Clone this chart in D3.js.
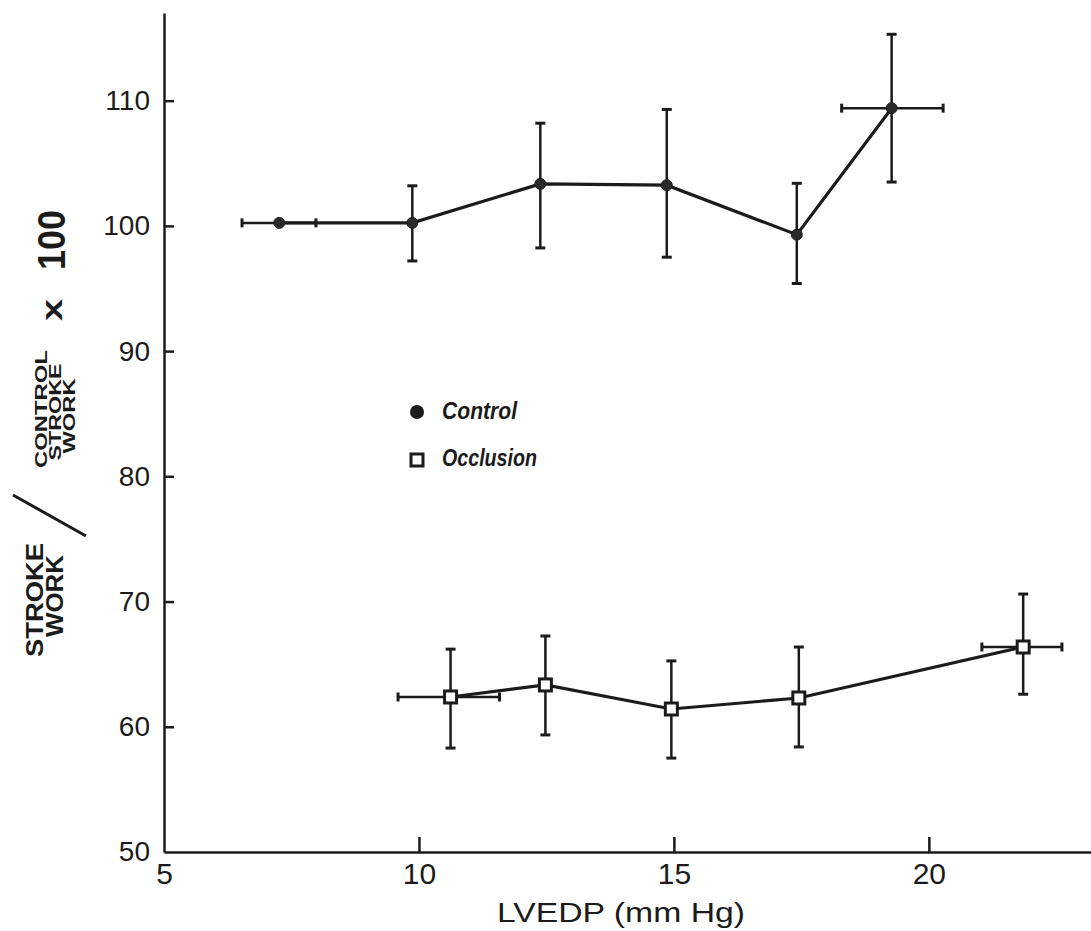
<!DOCTYPE html>
<html>
<head>
<meta charset="utf-8">
<script src="https://cdn.jsdelivr.net/npm/d3@7"></script>
<style>
  body { margin: 0; background: #fff; }
  text { font-family: "Liberation Sans", Arial, sans-serif; fill: #1b1b1b; }
</style>
</head>
<body>
<div id="chart"></div>
<script>
// values
var controlX   = [7.26, 9.87, 12.38, 14.86, 17.41, 19.27];
var controlY   = [100.24, 100.24, 103.35, 103.25, 99.3, 109.4];
var controlYLo = [null, 97.2, 98.24, 97.5, 95.4, 103.5];
var controlYHi = [null, 103.2, 108.2, 109.3, 103.4, 115.3];
var controlXLo = [6.53, null, null, null, null, 18.29];
var controlXHi = [7.98, null, null, null, null, 20.28];

var occlX   = [10.62, 12.48, 14.95, 17.45, 21.85];
var occlY   = [62.38, 63.34, 61.42, 62.3, 66.37];
var occlYLo = [58.3, 59.35, 57.5, 58.39, 62.6];
var occlYHi = [66.2, 67.25, 65.26, 66.37, 70.6];
var occlXLo = [9.59, null, null, null, 21.04];
var occlXHi = [11.58, null, null, null, 22.61];

var xTicks = [5, 10, 15, 20];
var yTicks = [50, 60, 70, 80, 90, 100, 110];

var W = 1091, H = 931;
var ink = "#1b1b1b";

var svg = d3.select("#chart").append("svg")
  .attr("width", W).attr("height", H);

var x = d3.scaleLinear().domain([5, 23.18]).range([164, 1091]);
var y = d3.scaleLinear().domain([50, 117]).range([852, 13]);

// x axis, ticks pointing up
var xAxis = svg.append("g")
  .attr("transform", "translate(0," + y(50) + ")")
  .call(d3.axisBottom(x).tickValues(xTicks).tickSizeInner(-15).tickSizeOuter(0).tickPadding(11).tickFormat(d3.format("d")));
xAxis.select(".domain").attr("stroke", ink).attr("stroke-width", 2.5);
xAxis.selectAll(".tick line").attr("stroke", ink).attr("stroke-width", 2.5)
  .filter(function(d) { return d === 5; }).remove();
xAxis.selectAll(".tick text").attr("font-size", 30).attr("fill", ink)
  .style("font-family", "'Liberation Sans', Arial, sans-serif");

// y axis, ticks pointing right
var yAxis = svg.append("g")
  .attr("transform", "translate(" + x(5) + ",0)")
  .call(d3.axisLeft(y).tickValues(yTicks).tickSizeInner(-10).tickSizeOuter(0).tickPadding(14).tickFormat(d3.format("d")));
yAxis.select(".domain").attr("stroke", ink).attr("stroke-width", 2.5);
yAxis.selectAll(".tick line").attr("stroke", ink).attr("stroke-width", 2.5)
  .filter(function(d) { return d === 50; }).remove();
yAxis.selectAll(".tick text").attr("font-size", 28).attr("fill", ink)
  .style("font-family", "'Liberation Sans', Arial, sans-serif");

// x title
svg.append("text")
  .attr("x", 621).attr("y", 922)
  .attr("text-anchor", "middle")
  .attr("font-size", 28)
  .attr("textLength", 248).attr("lengthAdjust", "spacingAndGlyphs")
  .text("LVEDP (mm Hg)");

// y title, rotated pieces
function rotLabel(cx, cy, size, len, str) {
  svg.append("text")
    .attr("transform", "translate(" + cx + "," + cy + ") rotate(-90)")
    .attr("text-anchor", "middle")
    .attr("dominant-baseline", "central")
    .attr("font-size", size)
    .attr("font-weight", "bold")
    .attr("textLength", len).attr("lengthAdjust", "spacingAndGlyphs")
    .text(str);
}
rotLabel(35, 600, 23, 114, "STROKE");
rotLabel(55, 596, 23, 82, "WORK");
rotLabel(41, 409, 17, 118, "CONTROL");
rotLabel(55, 412, 17, 97, "STROKE");
rotLabel(69, 416, 17, 75, "WORK");
rotLabel(51, 310, 30, 22, "x");
rotLabel(52, 240, 38, 60, "100");
svg.append("line")
  .attr("x1", 13).attr("y1", 495).attr("x2", 86).attr("y2", 536)
  .attr("stroke", ink).attr("stroke-width", 3);

// build point records
function rows(xs, ys, ylo, yhi, xlo, xhi) {
  return xs.map(function(v, i) {
    return { x: v, y: ys[i], ylo: ylo[i], yhi: yhi[i], xlo: xlo[i], xhi: xhi[i] };
  });
}
var control = rows(controlX, controlY, controlYLo, controlYHi, controlXLo, controlXHi);
var occl = rows(occlX, occlY, occlYLo, occlYHi, occlXLo, occlXHi);

function errorBars(data) {
  var g = svg.append("g").attr("stroke", ink).attr("stroke-width", 2.5);
  var v = data.filter(function(d) { return d.ylo != null; });
  g.selectAll(".vbar").data(v).enter().append("line")
    .attr("x1", function(d) { return x(d.x); }).attr("x2", function(d) { return x(d.x); })
    .attr("y1", function(d) { return y(d.ylo); }).attr("y2", function(d) { return y(d.yhi); });
  ["ylo", "yhi"].forEach(function(k) {
    g.selectAll(".vcap" + k).data(v).enter().append("line")
      .attr("x1", function(d) { return x(d.x) - 5; }).attr("x2", function(d) { return x(d.x) + 5; })
      .attr("y1", function(d) { return y(d[k]); }).attr("y2", function(d) { return y(d[k]); })
      .attr("stroke-width", 3);
  });
  var h = data.filter(function(d) { return d.xlo != null; });
  g.selectAll(".hbar").data(h).enter().append("line")
    .attr("x1", function(d) { return x(d.xlo); }).attr("x2", function(d) { return x(d.xhi); })
    .attr("y1", function(d) { return y(d.y); }).attr("y2", function(d) { return y(d.y); });
  ["xlo", "xhi"].forEach(function(k) {
    g.selectAll(".hcap" + k).data(h).enter().append("line")
      .attr("x1", function(d) { return x(d[k]); }).attr("x2", function(d) { return x(d[k]); })
      .attr("y1", function(d) { return y(d.y) - 4.5; }).attr("y2", function(d) { return y(d.y) + 4.5; })
      .attr("stroke-width", 3);
  });
}
errorBars(control);
errorBars(occl);

var line = d3.line().x(function(d) { return x(d.x); }).y(function(d) { return y(d.y); });
[control, occl].forEach(function(data) {
  svg.append("path").datum(data)
    .attr("d", line).attr("fill", "none")
    .attr("stroke", ink).attr("stroke-width", 3.2);
});

svg.selectAll(".cpt").data(control).enter().append("circle")
  .attr("cx", function(d) { return x(d.x); }).attr("cy", function(d) { return y(d.y); })
  .attr("r", 5.5).attr("fill", "#2a2a2a").attr("stroke", ink).attr("stroke-width", 1);

svg.selectAll(".opt").data(occl).enter().append("rect")
  .attr("x", function(d) { return x(d.x) - 6; }).attr("y", function(d) { return y(d.y) - 6; })
  .attr("width", 12).attr("height", 12)
  .attr("fill", "#fff").attr("stroke", ink).attr("stroke-width", 3);

// legend
svg.append("circle").attr("cx", 417).attr("cy", 412).attr("r", 7).attr("fill", ink);
svg.append("rect").attr("x", 411).attr("y", 454).attr("width", 12).attr("height", 12)
  .attr("fill", "#fff").attr("stroke", ink).attr("stroke-width", 3);
svg.append("text").attr("x", 442).attr("y", 419)
  .attr("font-size", 24).attr("font-style", "italic").attr("font-weight", "bold")
  .attr("textLength", 75).attr("lengthAdjust", "spacingAndGlyphs")
  .text("Control");
svg.append("text").attr("x", 442).attr("y", 466)
  .attr("font-size", 24).attr("font-style", "italic").attr("font-weight", "bold")
  .attr("textLength", 95).attr("lengthAdjust", "spacingAndGlyphs")
  .text("Occlusion");
</script>
</body>
</html>
